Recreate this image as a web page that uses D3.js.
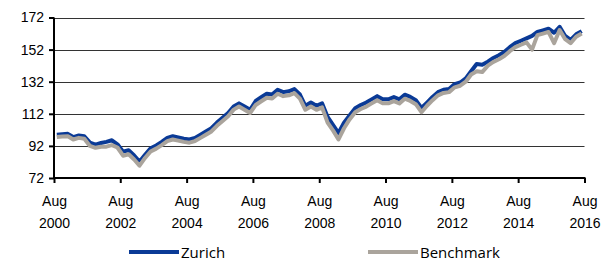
<!DOCTYPE html>
<html>
<head>
<meta charset="utf-8">
<script src="https://cdn.jsdelivr.net/npm/d3@7"></script>
<style>
body { margin: 0; background: #fff; }
svg { display: block; }
.tick text { font-family: "Liberation Sans", Arial, sans-serif; font-size: 14px; fill: #000; }
.legend text { font-family: "Open Sans", sans-serif; font-size: 15px; fill: #000; }
</style>
</head>
<body>
<div id="chart"></div>
<script>
// data, one point every two months from Aug 2000 to Aug 2016
var dates = d3.timeMonth.every(2).range(new Date(2000, 7, 1), new Date(2016, 8, 1))

var zurich = [
	99, 99.3, 99.5, 97.5, 98.5, 98, 94, 92.8, 93.8, 94.5, 95.5, 93,
	88.4, 89.3, 86, 82.2, 86.5, 90.5, 92.3, 94.5, 97, 98, 97.3, 96.5,
	96, 97, 99, 101, 103, 106.5, 109.5, 112.5, 116.6, 118.5, 116.5, 114.5,
	120, 122.3, 124.5, 124, 127, 125.5, 126, 127.4, 124, 117, 119, 117,
	118.5, 110, 105, 100, 106.5, 111, 115.5, 117.5, 119, 121, 123, 121,
	121, 122.4, 121, 123.9, 122.5, 120.5, 115.6, 119, 122.5, 125.5, 127, 127.5,
	130.5, 131.5, 134, 138.5, 143, 142.6, 144.5, 146.8, 148.5, 150.5, 153.5, 156,
	157.5, 159, 160.5, 163, 164, 165, 162.5, 166.2, 160.5, 158, 161.5, 163.5,
	166
]

var benchmark = [
	97.5, 97.8, 98, 96, 97, 96.5, 92, 90.8, 91.5, 91.5, 92.5, 91,
	85.9, 86.8, 83.5, 79.7, 84.5, 88.5, 90.3, 92.5, 95, 96, 95.3, 94.5,
	94, 95, 97, 99, 101, 104.5, 107.5, 110.5, 114.6, 116.5, 114.5, 112.5,
	117.5, 119.8, 122, 121.5, 124.5, 123, 123.5, 124.9, 121.5, 114.5, 116.5, 114.5,
	116, 106.5, 101.5, 96, 103, 108.5, 113, 115, 116.5, 118.5, 120.5, 118.5,
	118.5, 119.9, 118.5, 121.4, 120, 118, 113, 117, 120.5, 123.5, 125, 125.5,
	128.5, 129.5, 132, 136.5, 138.5, 138, 142, 144.3, 146, 148, 151, 153.5,
	155, 156.5, 152, 161, 162, 163, 156, 164.2, 158.5, 156, 160, 162,
	165.5
]

var yTicks = [72, 92, 112, 132, 152, 172]
var xTicks = d3.timeYear.every(2).range(new Date(2000, 0, 1), new Date(2017, 0, 1))
	.map(function(d) {return new Date(d.getFullYear(), 7, 1)})

var series = [
	{name: "Zurich", values: zurich, colour: "#0a3a96"},
	{name: "Benchmark", values: benchmark, colour: "#aaa49c"}
]

// size
var w = 606
var h = 264
var margin = {left: 54, right: 21.5, top: 17.5, bottom: 86}

var svg = d3.select("#chart")
	.append("svg")
	.attr("width", w)
	.attr("height", h)

// scales
var x = d3.scaleTime()
	.domain([new Date(2000, 7, 1), new Date(2016, 7, 1)])
	.range([margin.left, w - margin.right])

var y = d3.scaleLinear()
	.domain([72, 172])
	.range([h - margin.bottom, margin.top])

// gridlines
svg.append("g")
	.selectAll("line")
	.data(yTicks.slice(1))
	.enter()
	.append("line")
	.attr("x1", margin.left)
	.attr("x2", w - margin.right)
	.attr("y1", function(d) {return Math.round(y(d)) + 0.5})
	.attr("y2", function(d) {return Math.round(y(d)) + 0.5})
	.style("stroke", "#333")
	.style("stroke-width", 1)

// lines
var line = d3.line()
	.x(function(d, i) {return x(dates[i])})
	.y(function(d) {return y(d)})

svg.append("g")
	.selectAll("path")
	.data(series)
	.enter()
	.append("path")
	.attr("d", function(d) {return line(d.values)})
	.style("fill", "none")
	.style("stroke", function(d) {return d.colour})
	.style("stroke-width", 4)
	.style("stroke-linejoin", "round")

// axes
var yAxis = svg.append("g")
	.attr("transform", "translate(" + margin.left + ",0)")
	.call(d3.axisLeft(y).tickValues(yTicks).tickSize(5).tickPadding(5))

var xAxis = svg.append("g")
	.attr("transform", "translate(0," + (h - margin.bottom) + ")")
	.call(d3.axisBottom(x).tickValues(xTicks).tickSize(5).tickFormat(""))

yAxis.select(".domain").attr("d", "M0," + margin.top + "V" + (h - margin.bottom)).style("stroke-width", 2)
xAxis.select(".domain").attr("d", "M" + margin.left + ",0H" + (w - margin.right + 1)).style("stroke-width", 2)
svg.selectAll(".tick line").style("stroke-width", 2)

// two line tick labels
xAxis.selectAll(".tick")
	.append("text")
	.attr("y", 28)
	.attr("text-anchor", "middle")
	.text("Aug")
xAxis.selectAll(".tick")
	.append("text")
	.attr("y", 50)
	.attr("text-anchor", "middle")
	.text(function(d) {return d.getFullYear()})

// legend
var legend = svg.append("g")
	.classed("legend", true)
	.selectAll("g")
	.data(series)
	.enter()
	.append("g")
	.attr("transform", function(d, i) {return "translate(" + (129 + i * 239) + ",252)"})

legend.append("line")
	.attr("x1", 0)
	.attr("x2", 50)
	.style("stroke", function(d) {return d.colour})
	.style("stroke-width", 4)

legend.append("text")
	.attr("x", 52)
	.attr("y", 5.5)
	.text(function(d) {return d.name})
</script>
</body>
</html>
